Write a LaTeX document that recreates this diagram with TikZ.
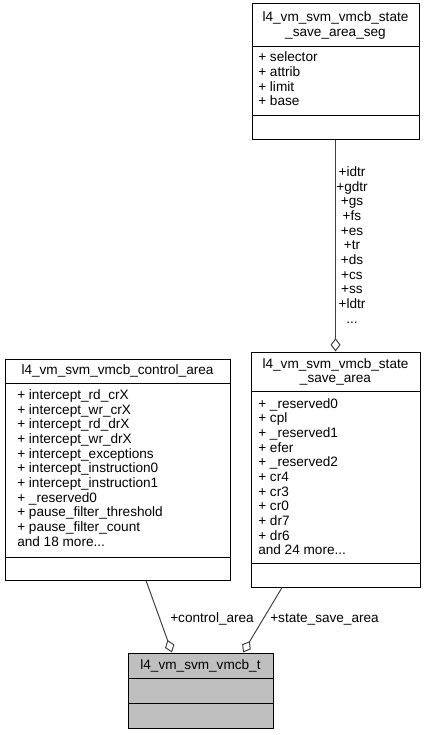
\documentclass[tikz,border=0pt]{standalone}
\usepackage{fontspec}
\setmainfont{Liberation Sans}
\usetikzlibrary{arrows.meta}

\begin{document}
\begin{tikzpicture}[x=0.75pt,y=0.75pt,yscale=-1,xscale=1,
  classbox/.style={draw, line width=0.75pt, inner sep=0pt},
  classname/.style={inner sep=0pt, align=center, font=\fontsize{10.2}{11}\selectfont},
  member/.style={anchor=west, inner sep=0pt, align=left, font=\fontsize{10.2}{11}\selectfont},
  aggr/.style={color={rgb, 255:red, 64; green, 64; blue, 64}, line width=0.75pt, -{Diamond[open,length=10pt,width=7.5pt]}}]
\useasboundingbox (0,0) rectangle (426,735);
%Class: state_save_area_seg
\node [classbox, minimum width=125.25pt, minimum height=101.25pt] (seg) at (335.5,71.5) {};
\draw [line width=0.75pt] (252,47) -- (419,47) ;
\draw [line width=0.75pt] (252,115) -- (419,115) ;
\node [classname] (segname) at (335.5,25.5) {l4\_vm\_svm\_vmcb\_state\\\_save\_area\_seg};
\node [member] (segattr) at (258,79) {+ selector\\+ attrib\\+ limit\\+ base};
%Class: state_save_area
\node [classbox, minimum width=126.75pt, minimum height=176.25pt] (state) at (335.5,469.5) {};
\draw [line width=0.75pt] (251,391) -- (420,391) ;
\draw [line width=0.75pt] (251,563) -- (420,563) ;
\node [classname] (statename) at (335.5,372) {l4\_vm\_svm\_vmcb\_state\\\_save\_area};
\node [member] (stateattr) at (258,476.5) {+ \_reserved0\\+ cpl\\+ \_reserved1\\+ efer\\+ \_reserved2\\+ cr4\\+ cr3\\+ cr0\\+ dr7\\+ dr6\\and 24 more...};
%Class: control_area
\node [classbox, minimum width=168.75pt, minimum height=165.75pt] (ctrl) at (117.5,469.5) {};
\draw [line width=0.75pt] (5,383) -- (230,383) ;
\draw [line width=0.75pt] (5,557) -- (230,557) ;
\node [classname] (ctrlname) at (117.5,371) {l4\_vm\_svm\_vmcb\_control\_area};
\node [member] (ctrlattr) at (17,468) {+ intercept\_rd\_crX\\+ intercept\_wr\_crX\\+ intercept\_rd\_drX\\+ intercept\_wr\_drX\\+ intercept\_exceptions\\+ intercept\_instruction0\\+ intercept\_instruction1\\+ \_reserved0\\+ pause\_filter\_threshold\\+ pause\_filter\_count\\and 18 more...};
%Class: vmcb_t
\node [classbox, fill={rgb, 255:red, 191; green, 191; blue, 191}, minimum width=108.75pt, minimum height=56.25pt] (vmcb) at (200.5,690.5) {};
\draw [line width=0.75pt] (128,678) -- (273,678) ;
\draw [line width=0.75pt] (128,703) -- (273,703) ;
\node [classname] (vmcbname) at (200.5,666) {l4\_vm\_svm\_vmcb\_t};
%Aggregations
\draw [aggr] (seg.south) -- (state.north) ;
\draw [aggr] ([xshift=21.4pt]ctrl.south) -- ([xshift=-21.4pt]vmcb.north) ;
\draw [aggr] ([xshift=-40.1pt]state.south) -- ([xshift=31.9pt]vmcb.north) ;
% Text Node
\node [classname] (seglbl) at (352,245) {+idtr\\+gdtr\\+gs\\+fs\\+es\\+tr\\+ds\\+cs\\+ss\\+ldtr\\...};
% Text Node
\node [member] (ctrllbl) at (170,619) {+control\_area};
% Text Node
\node [member] (statelbl) at (270,619) {+state\_save\_area};
\end{tikzpicture}
\end{document}
